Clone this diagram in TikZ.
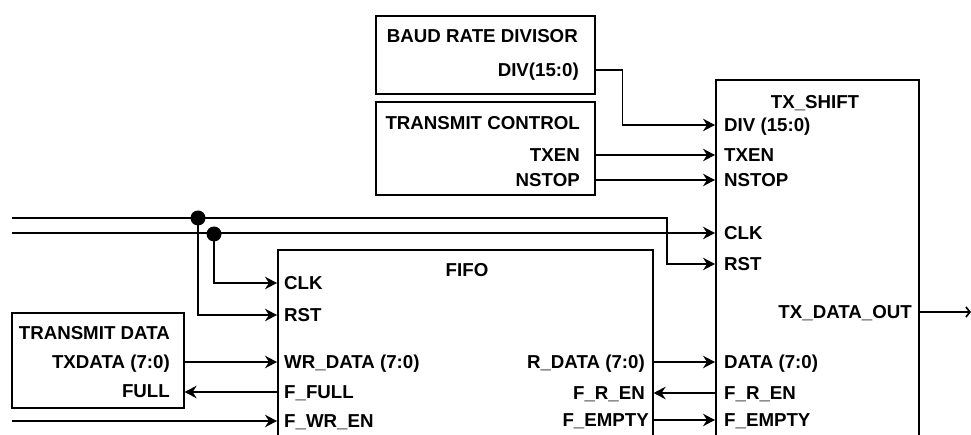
\documentclass[tikz,border=0pt]{standalone}
\usepackage{fontspec}
\setmainfont{Liberation Sans}
\usetikzlibrary{arrows.meta}
\begin{document}
\begin{tikzpicture}[x=1pt,y=-1pt,
  box/.style={draw,line width=1.6pt,inner sep=0pt,anchor=north west},
  lbl/.style={font=\bfseries\fontsize{18.7}{21}\selectfont,inner sep=0pt,text height=13.4pt,text depth=0pt},
  wire/.style={line width=1.7pt},
  arr/.style={wire,-{Stealth[length=12pt,width=12.5pt,inset=4pt]}},
  dotnode/.style={circle,fill,minimum size=15pt,inner sep=0pt}]
\useasboundingbox (0,0) rectangle (971,435);
\clip (0,0) rectangle (971,435);
% boxes
\node[box,minimum width=219pt,minimum height=78pt] (baud) at (375,15) {};
\node[box,minimum width=219pt,minimum height=93pt] (ctrl) at (375,101) {};
\node[box,minimum width=172pt,minimum height=95pt] (tdata) at (11,312) {};
\node[box,minimum width=375pt,minimum height=200pt] (fifo) at (277,249) {};
\node[box,minimum width=203pt,minimum height=370pt] (txs) at (715,79) {};
% baud labels
\node[lbl,anchor=east] (bt) at (578,36) {BAUD RATE DIVISOR};
\node[lbl,anchor=east] (bdiv) at (579,70) {DIV(15:0)};
% control labels
\node[lbl,anchor=east] (ct) at (580,123) {TRANSMIT CONTROL};
\node[lbl,anchor=east] (ctxen) at (580,155) {TXEN};
\node[lbl,anchor=east] (cnstop) at (580,180) {NSTOP};
% tx shift labels
\node[lbl] (tt) at (815,102) {TX\_SHIFT};
\node[lbl,anchor=west] (tdiv) at (724,125) {DIV (15:0)};
\node[lbl,anchor=west] (ttxen) at (724,155) {TXEN};
\node[lbl,anchor=west] (tnstop) at (724,180) {NSTOP};
\node[lbl,anchor=west] (tclk) at (724,233) {CLK};
\node[lbl,anchor=west] (trst) at (724,264) {RST};
\node[lbl,anchor=east] (tout) at (912,312) {TX\_DATA\_OUT};
\node[lbl,anchor=west] (tdat) at (724,362) {DATA (7:0)};
\node[lbl,anchor=west] (tren) at (724,393) {F\_R\_EN};
\node[lbl,anchor=west] (tempty) at (724,420) {F\_EMPTY};
% fifo labels
\node[lbl] (ft) at (467,270) {FIFO};
\node[lbl,anchor=west] (fclk) at (284,283) {CLK};
\node[lbl,anchor=west] (frst) at (284,315) {RST};
\node[lbl,anchor=west] (fwr) at (284,362) {WR\_DATA (7:0)};
\node[lbl,anchor=west] (ffull) at (284,392) {F\_FULL};
\node[lbl,anchor=west] (fwren) at (284,421) {F\_WR\_EN};
\node[lbl,anchor=east] (frdata) at (645,362) {R\_DATA (7:0)};
\node[lbl,anchor=east] (fren) at (645,393) {F\_R\_EN};
\node[lbl,anchor=east] (fempty) at (649,420) {F\_EMPTY};
% transmit data labels
\node[lbl,anchor=east] (dt) at (170,333) {TRANSMIT DATA};
\node[lbl,anchor=east] (dtx) at (170,362) {TXDATA (7:0)};
\node[lbl,anchor=east] (dfull) at (170,391) {FULL};
% free ends
\coordinate (inR) at (12,218);
\coordinate (inC) at (12,233);
\coordinate (inW) at (12,421);
\coordinate (rbend) at (667,218);
\coordinate (outE) at (971,312);
% connectors
\draw[arr] (baud.east |- bdiv) -- ++(27,0) |- (txs.west |- tdiv);
\draw[arr] (ctrl.east |- ctxen) -- (txs.west |- ttxen);
\draw[arr] (ctrl.east |- cnstop) -- (txs.west |- tnstop);
\draw[arr] (inR) -- (rbend) |- (txs.west |- trst);
\draw[arr] (inC) -- (txs.west |- tclk);
\node[dotnode] (d1) at (198,218) {};
\node[dotnode] (d2) at (214,234) {};
\draw[arr] (d1.center) |- (fifo.west |- frst);
\draw[arr] (d2.center) |- (fifo.west |- fclk);
\draw[arr] (tdata.east |- dtx) -- (fifo.west |- fwr);
\draw[arr] (fifo.west |- ffull) -- (tdata.east |- ffull);
\draw[arr] (inW) -- (fifo.west |- fwren);
\draw[arr] (fifo.east |- frdata) -- (txs.west |- tdat);
\draw[arr] (txs.west |- tren) -- (fifo.east |- tren);
\draw[arr] (fifo.east |- fempty) -- (txs.west |- tempty);
\draw[wire,-{Straight Barb[length=4pt,width=10pt]}] (txs.east |- tout) -- (outE);
\end{tikzpicture}
\end{document}
